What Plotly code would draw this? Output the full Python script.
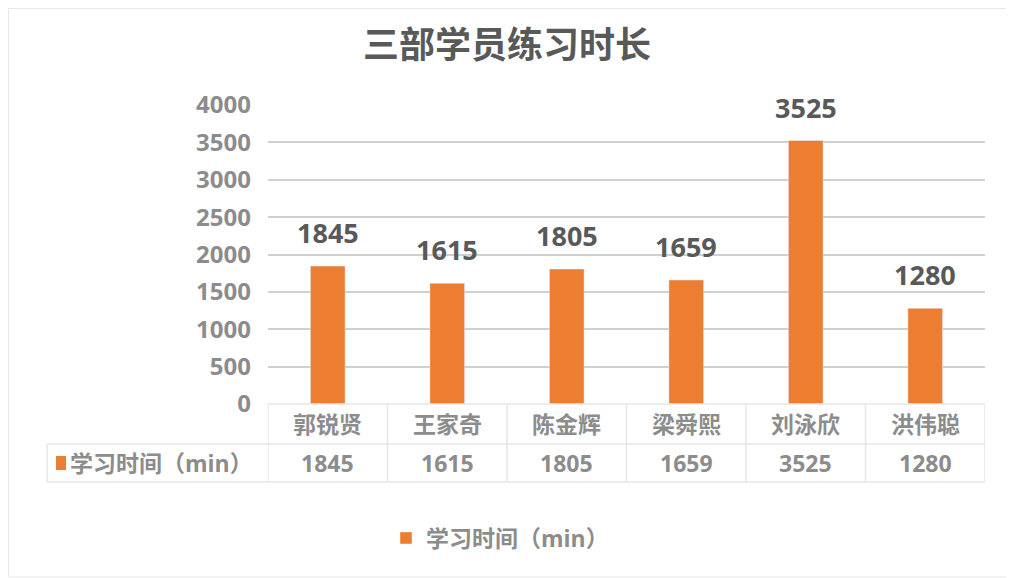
import plotly.graph_objects as go

categories = ["郭锐贤", "王家奇", "陈金辉", "梁舜熙", "刘泳欣", "洪伟聪"]
values = [1845, 1615, 1805, 1659, 3525, 1280]
series_name = "学习时间（min）"
title_text = "三部学员练习时长"
y_ticks = [0, 500, 1000, 1500, 2000, 2500, 3000, 3500, 4000]

# the page body has an 8px margin; compensate so screen pixels match
OFF = 8
SW, SH = 1014, 578
W, H = SW - OFF, SH - OFF
# plot area in screen pixels
X0, X1, Y0, Y1 = 268, 985, 105, 404
L, R, T, B = X0 - OFF, SW - X1, Y0 - OFF, SH - Y1
PW = X1 - X0
PH = Y1 - Y0

def px_x(p):
    return (p - X0) / PW

def px_y(p):
    return (Y1 - p) / PH

FONT = "Open Sans, Noto Sans CJK SC, sans-serif"
BAR = "#ED7D31"
GRAY = "#8C8C8C"
DARK = "#595959"
LINE = "#E6E6E6"

fig = go.Figure()
fig.add_trace(go.Bar(
    x=categories, y=values, name=f"<b>{series_name}</b>",
    marker_color=BAR, width=0.29, showlegend=True,
))

annotations = []
for c, v in zip(categories, values):
    annotations.append(dict(
        x=c, y=v, xref="x", yref="y", text=f"<b>{v}</b>", showarrow=False,
        yanchor="bottom", yshift=13,
        font=dict(family=FONT, size=27, color=DARK),
    ))
    annotations.append(dict(
        x=c, y=px_y(424), xref="x", yref="paper", text=f"<b>{c}</b>", showarrow=False,
        yanchor="middle", font=dict(family=FONT, size=23, color=GRAY),
    ))
    annotations.append(dict(
        x=c, y=px_y(463), xref="x", yref="paper", text=f"<b>{v}</b>", showarrow=False,
        yanchor="middle", font=dict(family=FONT, size=23, color=GRAY),
    ))

annotations.append(dict(
    x=px_x(68), y=px_y(463), xref="paper", yref="paper", text=f"<b>{series_name}</b>",
    showarrow=False, xanchor="left", yanchor="middle",
    font=dict(family=FONT, size=23, color=GRAY),
))

shapes = []
n = len(categories)
shapes.append(dict(type="line", xref="paper", yref="paper", x0=0, x1=1,
                   y0=px_y(404), y1=px_y(404), line=dict(color=LINE, width=1.5)))
for py in (444, 482):
    shapes.append(dict(type="line", xref="paper", yref="paper", x0=px_x(47), x1=1,
                       y0=px_y(py), y1=px_y(py), line=dict(color=LINE, width=1.5)))
for k in range(n + 1):
    shapes.append(dict(type="line", xref="x", yref="paper", x0=k - 0.5, x1=k - 0.5,
                       y0=px_y(404), y1=px_y(482), line=dict(color=LINE, width=1.5)))
shapes.append(dict(type="line", xref="paper", yref="paper", x0=px_x(47), x1=px_x(47),
                   y0=px_y(444), y1=px_y(482), line=dict(color=LINE, width=1.5)))
shapes.append(dict(type="rect", xref="paper", yref="paper", x0=px_x(56), x1=px_x(66),
                   y0=px_y(456), y1=px_y(470), fillcolor=BAR, line=dict(width=0)))
shapes.append(dict(type="rect", xref="paper", yref="paper",
                   x0=px_x(OFF + 0.5), x1=px_x(SW - 1), y0=px_y(SH - 1), y1=px_y(OFF + 0.5),
                   line=dict(color="#E8E8E8", width=1)))

fig.update_layout(
    width=W, height=H,
    margin=dict(l=L, r=R, t=T, b=B, autoexpand=False),
    paper_bgcolor="white", plot_bgcolor="white",
    title=dict(text=f"<b>{title_text}</b>", x=(507 - OFF) / W, xref="container", xanchor="center",
               y=1 - (45 - OFF) / H, yref="container", yanchor="middle",
               font=dict(family=FONT, size=36, color=DARK)),
    bargap=0.7,
    xaxis=dict(showticklabels=False, showline=False, showgrid=False, zeroline=False,
               range=[-0.5, n - 0.5]),
    yaxis=dict(range=[0, 4000], tickvals=y_ticks, ticktext=[f"<b>{t}</b>" for t in y_ticks],
               showgrid=True, gridcolor="#D0D0D0", gridwidth=1.5, zeroline=False,
               showline=False, ticks="", ticklabelstandoff=16,
               tickfont=dict(family=FONT, size=24, color=GRAY)),
    legend=dict(orientation="h", xref="container", yref="container",
                x=(500 - OFF) / W, y=1 - (538 - OFF) / H,
                xanchor="center", yanchor="middle",
                font=dict(family=FONT, size=23, color=GRAY)),
    annotations=annotations, shapes=shapes,
)

fig.write_html("out.html")
